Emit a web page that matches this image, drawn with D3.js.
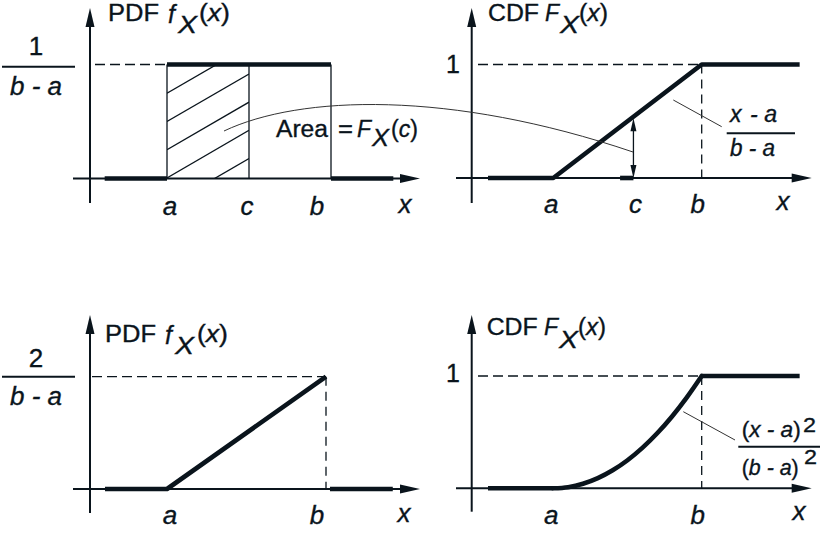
<!DOCTYPE html>
<html><head><meta charset="utf-8">
<script src="https://cdn.jsdelivr.net/npm/d3@7/dist/d3.min.js"></script>
<style>
html,body{margin:0;padding:0;background:#fff;}
svg{display:block;font-family:"Liberation Sans",Arial,sans-serif;}
svg text{stroke:#0a141c;stroke-width:0.35px;paint-order:stroke;}
</style></head>
<body>
<svg id="chart" width="828" height="552"></svg>
<script>
// ---------- data (abstract units: a = 1, b = 3) ----------
const tickLabelsPdfTop = ["a", "c", "b"];
const tickPosPdfTop    = [1, 2, 3];
const tickLabelsCdfTop = ["a", "c", "b"];
const tickPosCdfTop    = [1, 2.08, 3];
const tickLabelsBottom = ["a", "b"];
const tickPosBottom    = [1, 3];

// uniform PDF (top-left)
const uniPdfLowX  = [0.24, 1];    const uniPdfLowY  = [0, 0];
const uniPdfTopX  = [1, 3];       const uniPdfTopY  = [1, 1];
const uniPdfHighX = [3, 3.76];    const uniPdfHighY = [0, 0];
const uniCValue = 2;
// uniform CDF (top-right)
const uniCdfX = [0.12, 1, 3, 4.32];
const uniCdfY = [0, 0, 1, 1];
const uniCdfCMarkX = [1.9, 2.08];
// triangular PDF (bottom-left)
const triPdfX = [0.22, 1, 3];
const triPdfY = [0, 0, 1];
const triPdfHighX = [3.05, 3.84];
const triPdfHighY = [0, 0];
// triangular CDF (bottom-right)
const triCdfLowX  = [0.12, 1];   const triCdfLowY  = [0, 0];
const triCdfX = [1, 1.2, 1.4, 1.6, 1.8, 2.0, 2.2, 2.4, 2.6, 2.8, 3];
const triCdfY = [0, 0.01, 0.04, 0.09, 0.16, 0.25, 0.36, 0.49, 0.64, 0.81, 1];
const triCdfHighX = [3, 4.32];   const triCdfHighY = [1, 1];

// ---------- layout ----------
const INK = "#0a141c";
const svg = d3.select("#chart");
const defs = svg.append("defs");

const panels = {
  tl: {x: d3.scaleLinear().domain([1,3]).range([167,331]), y: d3.scaleLinear().domain([0,1]).range([178.5,64.5]),
       yAxisX: 90, yAxisBottom: 203, yAxisTop: 8, xAxisLeft: 73, xAxisRight: 420},
  tr: {x: d3.scaleLinear().domain([1,3]).range([553.3,701.7]), y: d3.scaleLinear().domain([0,1]).range([178,64.5]),
       yAxisX: 471.7, yAxisBottom: 203, yAxisTop: 8, xAxisLeft: 456, xAxisRight: 811.7},
  bl: {x: d3.scaleLinear().domain([1,3]).range([167,326]), y: d3.scaleLinear().domain([0,1]).range([489,376.7]),
       yAxisX: 90, yAxisBottom: 513, yAxisTop: 315, xAxisLeft: 73, xAxisRight: 420},
  br: {x: d3.scaleLinear().domain([1,3]).range([553.3,701.7]), y: d3.scaleLinear().domain([0,1]).range([488.3,376]),
       yAxisX: 471.7, yAxisBottom: 511.7, yAxisTop: 315, xAxisLeft: 456, xAxisRight: 811.7}
};

function axes(p) {
  const g = svg.append("g");
  const y0 = p.y(0);
  g.append("line").attr("x1", p.yAxisX).attr("x2", p.yAxisX).attr("y1", p.yAxisBottom).attr("y2", p.yAxisTop + 16)
    .attr("stroke", INK).attr("stroke-width", 2);
  g.append("path").attr("d", `M${p.yAxisX},${p.yAxisTop} L${p.yAxisX-4.5},${p.yAxisTop+19} L${p.yAxisX+4.5},${p.yAxisTop+19} Z`).attr("fill", INK);
  g.append("line").attr("x1", p.xAxisLeft).attr("x2", p.xAxisRight - 16).attr("y1", y0).attr("y2", y0)
    .attr("stroke", INK).attr("stroke-width", 2);
  g.append("path").attr("d", `M${p.xAxisRight},${y0} L${p.xAxisRight-20},${y0-4.5} L${p.xAxisRight-20},${y0+4.5} Z`).attr("fill", INK);
}

function thick(p, xs, ys, curve, cap) {
  const pts = xs.map((v, i) => [v, ys[i]]);
  const line = d3.line().x(d => p.x(d[0])).y(d => p.y(d[1])).curve(curve || d3.curveLinear);
  svg.append("path").attr("d", line(pts)).attr("fill", "none").attr("stroke", INK)
    .attr("stroke-width", 4.6).attr("stroke-linejoin", "round").attr("stroke-linecap", cap || "butt");
}
function thin(x1, y1, x2, y2, opts) {
  opts = opts || {};
  svg.append("line").attr("x1", x1).attr("y1", y1).attr("x2", x2).attr("y2", y2)
    .attr("stroke", opts.color || INK).attr("stroke-width", opts.w || 1.3)
    .attr("stroke-dasharray", opts.dash || null);
}
function txt(x, y, s, size, opts) {
  opts = opts || {};
  const t = svg.append("text").attr("x", x).attr("y", y).attr("font-size", size).attr("fill", INK)
    .attr("text-anchor", opts.anchor || "start").attr("font-style", opts.italic ? "italic" : "normal").text(s);
  if (opts.len) t.attr("textLength", opts.len).attr("lengthAdjust", "spacingAndGlyphs");
  return t;
}
function paren(x, y, inner, size, len) {
  const t = svg.append("text").attr("x", x).attr("y", y).attr("font-size", size).attr("fill", INK);
  t.append("tspan").text("(");
  t.append("tspan").attr("font-style", "italic").text(inner);
  t.append("tspan").text(")");
  if (len) t.attr("textLength", len).attr("lengthAdjust", "spacingAndGlyphs");
  return t;
}
const DASH_H = "10,5", DASH_V = "9,6";

// ================= Top-left: uniform PDF =================
{
  const p = panels.tl;
  axes(p);
  // hatching a..c
  defs.append("clipPath").attr("id", "hatchClip").append("rect")
    .attr("x", p.x(1)).attr("y", p.y(1)).attr("width", p.x(uniCValue) - p.x(1)).attr("height", p.y(0) - p.y(1));
  const hg = svg.append("g").attr("clip-path", "url(#hatchClip)");
  const x0 = p.x(1), x1 = p.x(uniCValue);
  [93.3, 121.5, 149.7, 177.9, 206.1].forEach(y0 => {
    hg.append("line").attr("x1", x0).attr("y1", y0).attr("x2", x1).attr("y2", y0 - 0.58 * (x1 - x0))
      .attr("stroke", INK).attr("stroke-width", 1.3);
  });
  [1, uniCValue, 3].forEach(v => thin(p.x(v), p.y(1), p.x(v), p.y(0)));
  thin(95, p.y(1), p.x(1), p.y(1), {dash: DASH_H});
  thick(p, uniPdfLowX, uniPdfLowY);
  thick(p, uniPdfTopX, uniPdfTopY);
  thick(p, uniPdfHighX, uniPdfHighY);
  // title
  txt(108, 21, "PDF", 23, {len: 51});
  txt(168, 22.5, "f", 25, {italic: true});
  txt(178, 33.3, "X", 23, {italic: true, len: 19});
  paren(199, 21, "x", 23, 31);
  // y label 1/(b-a)
  txt(36, 55, "1", 26, {anchor: "middle"});
  thin(2, 66.7, 75, 66.7, {w: 2});
  txt(36, 95, "b - a", 26, {anchor: "middle", italic: true});
  const dx = [3, -2, -14];
  tickLabelsPdfTop.forEach((l, i) => txt(p.x(tickPosPdfTop[i]) + dx[i], 215, l, 26, {anchor: "middle", italic: true}));
  txt(405, 213, "x", 26, {anchor: "middle", italic: true});
}

// ================= Top-right: uniform CDF =================
{
  const p = panels.tr;
  axes(p);
  thin(478, p.y(1), p.x(3), p.y(1), {dash: DASH_H});
  thin(p.x(3), p.y(1), p.x(3), p.y(0), {dash: DASH_V});
  thick(p, uniCdfX, uniCdfY);
  thick(p, uniCdfCMarkX, [0, 0]);
  // double arrow at c
  const cx = p.x(tickPosCdfTop[1]);
  const top = p.y((tickPosCdfTop[1] - 1) / 2) + 1.5, bot = p.y(0);
  thin(cx, top + 10, cx, bot - 10, {w: 1.3});
  svg.append("path").attr("d", `M${cx},${top} L${cx-3},${top+13} L${cx+3},${top+13} Z`).attr("fill", INK);
  svg.append("path").attr("d", `M${cx},${bot} L${cx-3},${bot-13} L${cx+3},${bot-13} Z`).attr("fill", INK);
  // leader + fraction
  thin(673.3, 100, 721.7, 126.7, {w: 1, color: "#333"});
  txt(730, 121.7, "x", 23, {italic: true});
  txt(750, 121.7, "- a", 23, {italic: true, len: 27});
  thin(726.7, 133.3, 795, 133.3, {w: 2});
  txt(730, 156, "b - a", 23, {italic: true, len: 45});
  // title
  txt(488, 21, "CDF", 23, {len: 51});
  txt(545, 21, "F", 23, {italic: true, len: 14});
  txt(560, 33, "X", 23, {italic: true, len: 19});
  paren(579, 21, "x", 23, 29);
  txt(453, 73, "1", 25, {anchor: "middle"});
  const dx = [-2, 2, -4];
  tickLabelsCdfTop.forEach((l, i) => txt(p.x(tickPosCdfTop[i]) + dx[i], 213.3, l, 26, {anchor: "middle", italic: true}));
  txt(783, 210, "x", 26, {anchor: "middle", italic: true});
}

// "Area = F_X(c)" label and its connector curve
svg.append("path").attr("d", "M224,131 C300,95 450,90 633,152")
  .attr("fill", "none").attr("stroke", "#333").attr("stroke-width", 1);
txt(276, 137.3, "Area", 23, {len: 52});
txt(338, 137.3, "=", 23, {len: 15});
txt(357, 137.3, "F", 23, {italic: true, len: 14});
txt(372, 146, "X", 23, {italic: true, len: 17});
paren(391, 137.3, "c", 23, 27);

// ================= Bottom-left: triangular PDF =================
{
  const p = panels.bl;
  axes(p);
  thin(92, p.y(1), p.x(3), p.y(1), {dash: DASH_H});
  thin(p.x(3), p.y(1), p.x(3), p.y(0), {dash: DASH_V});
  thick(p, triPdfX, triPdfY);
  thick(p, triPdfHighX, triPdfHighY);
  txt(105, 342, "PDF", 23, {len: 51});
  txt(165, 343.5, "f", 25, {italic: true});
  txt(175, 354, "X", 23, {italic: true, len: 19});
  paren(197, 342, "x", 23, 31);
  txt(36, 366.7, "2", 26, {anchor: "middle"});
  thin(2, 376.7, 75, 376.7, {w: 2});
  txt(36, 405, "b - a", 26, {anchor: "middle", italic: true});
  const dx = [3, -9];
  tickLabelsBottom.forEach((l, i) => txt(p.x(tickPosBottom[i]) + dx[i], 524, l, 26, {anchor: "middle", italic: true}));
  txt(404, 521.7, "x", 26, {anchor: "middle", italic: true});
}

// ================= Bottom-right: triangular CDF =================
{
  const p = panels.br;
  axes(p);
  thin(478, p.y(1), p.x(3), p.y(1), {dash: DASH_H});
  thin(p.x(3), p.y(1), p.x(3), p.y(0), {dash: DASH_V});
  thick(p, triCdfLowX, triCdfLowY);
  thick(p, triCdfX, triCdfY, d3.curveMonotoneX, "round");
  thick(p, triCdfHighX, triCdfHighY);
  thin(683.3, 411.7, 735, 440, {w: 1, color: "#333"});
  // (x - a)^2 / (b - a)^2
  paren(741.7, 437, "x - a", 22, 59);
  txt(803, 432, "2", 21, {len: 13});
  thin(738.3, 446.7, 820, 446.7, {w: 2});
  paren(741.7, 475, "b - a", 22, 57);
  txt(804, 464, "2", 21, {len: 13});
  // title
  txt(486.7, 335, "CDF", 23, {len: 51});
  txt(544, 335, "F", 23, {italic: true, len: 14});
  txt(559, 347.5, "X", 23, {italic: true, len: 19});
  paren(578, 335, "x", 23, 28);
  txt(453, 381.7, "1", 25, {anchor: "middle"});
  const dx = [-2, -4];
  tickLabelsBottom.forEach((l, i) => txt(p.x(tickPosBottom[i]) + dx[i], 524, l, 26, {anchor: "middle", italic: true}));
  txt(799, 520, "x", 26, {anchor: "middle", italic: true});
}
</script>
</body></html>
